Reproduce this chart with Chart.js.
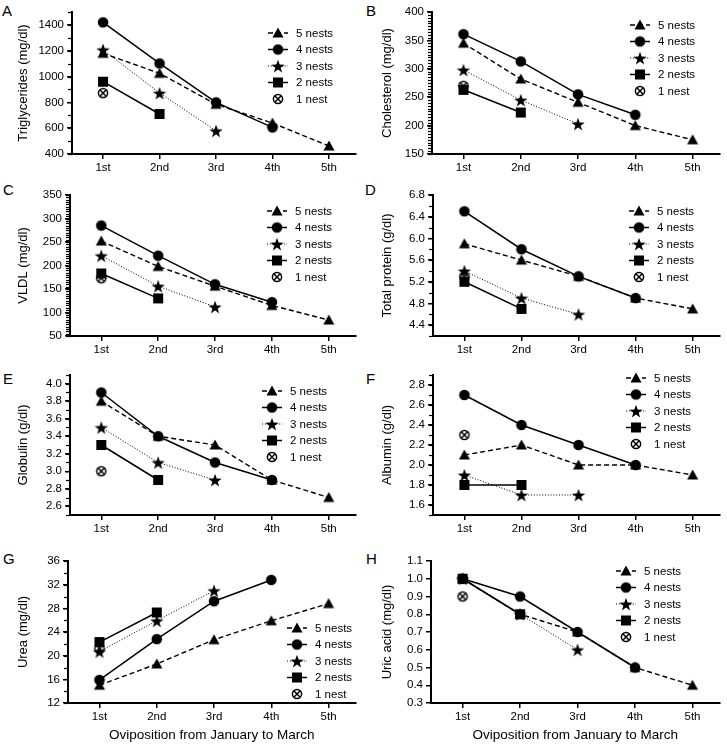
<!DOCTYPE html>
<html>
<head>
<meta charset="utf-8">
<script src="https://cdn.jsdelivr.net/npm/chart.js@4/dist/chart.umd.min.js"></script>
<style>
	html, body { margin: 0; padding: 0; background: #fff; }
	body { position: relative; width: 727px; height: 746px; overflow: hidden; font-family: "Liberation Sans", Arial, sans-serif; }
	canvas { position: absolute; }
	.letter { position: absolute; font-size: 15px; line-height: 15px; color: #000; }
</style>
</head>
<body>
<script>

/*
 * Data.
 * Each panel: one array per series, in legend order (5 nests .. 1 nest).
 */
const categories = [ "1st", "2nd", "3rd", "4th", "5th" ];
const series = [ "5 nests", "4 nests", "3 nests", "2 nests", "1 nest" ];

const triglycerides = [ [ 1180, 1025, 785, 640, 462 ], [ 1420, 1102, 800, 606 ], [ 1208, 872, 580 ], [ 960, 710 ], [ 872 ] ];
const cholesterol = [ [ 345, 282, 241, 200, 175 ], [ 361, 313, 255, 219 ], [ 298, 245, 203 ], [ 263, 223 ], [ 270 ] ];
const vldl = [ [ 252, 198, 156, 115, 84 ], [ 285, 221, 160, 122 ], [ 221, 156, 112 ], [ 183, 130 ], [ 173 ] ];
const totalProtein = [ [ 5.9, 5.6, 5.3, 4.9, 4.7 ], [ 6.5, 5.8, 5.3, 4.9 ], [ 5.4, 4.9, 4.6 ], [ 5.2, 4.7 ], [ 5.3 ] ];
const globulin = [ [ 3.8, 3.4, 3.3, 2.9, 2.7 ], [ 3.9, 3.4, 3.1, 2.9 ], [ 3.5, 3.1, 2.9 ], [ 3.3, 2.9 ], [ 3.0 ] ];
const albumin = [ [ 2.1, 2.2, 2.0, 2.0, 1.9 ], [ 2.7, 2.4, 2.2, 2.0 ], [ 1.9, 1.7, 1.7 ], [ 1.8, 1.8 ], [ 2.3 ] ];
const urea = [ [ 15.0, 18.6, 22.7, 25.9, 28.8 ], [ 15.9, 22.8, 29.2, 32.8 ], [ 20.7, 25.9, 31.0 ], [ 22.3, 27.3 ], [ 21.2 ] ];
const uricAcid = [ [ 1.0, 0.8, 0.7, 0.5, 0.4 ], [ 1.0, 0.9, 0.7, 0.5 ], [ 1.0, 0.8, 0.6 ], [ 1.0, 0.8 ], [ 0.9 ] ];

// Y tick labels per panel.
const triglyceridesTicks = [ 400, 600, 800, 1000, 1200, 1400 ];
const cholesterolTicks = [ 150, 200, 250, 300, 350, 400 ];
const vldlTicks = [ 50, 100, 150, 200, 250, 300, 350 ];
const totalProteinTicks = [ 4.4, 4.8, 5.2, 5.6, 6.0, 6.4, 6.8 ];
const globulinTicks = [ 2.6, 2.8, 3.0, 3.2, 3.4, 3.6, 3.8, 4.0 ];
const albuminTicks = [ 1.6, 1.8, 2.0, 2.2, 2.4, 2.6, 2.8 ];
const ureaTicks = [ 12, 16, 20, 24, 28, 32, 36 ];
const uricAcidTicks = [ 0.3, 0.4, 0.5, 0.6, 0.7, 0.8, 0.9, 1.0, 1.1 ];

const FONT = "'Liberation Sans', Arial, sans-serif";

/*
 * Panel layout (page pixels) and axis settings.
 */
const rows = [
	{ top: 12, bottom: 154, xh: 25 },
	{ top: 195, bottom: 336, xh: 25 },
	{ top: 375, bottom: 515, xh: 25 },
	{ top: 561, bottom: 703, xh: 42 }
];

const panels = [
	{ letter: "A", lx: 2, ly: 3, col: 0, row: 0, left: 72, title: "Triglycerides (mg/dl)", values: triglycerides, ticks: triglyceridesTicks, min: 400, max: 1500, minor: 100, dec: 0, legend: [ 196, 21 ] },
	{ letter: "B", lx: 366, ly: 3, col: 1, row: 0, left: 432, title: "Cholesterol (mg/dl)", values: cholesterol, ticks: cholesterolTicks, min: 150, max: 400, minor: 5, dec: 0, legend: [ 198, 13 ] },
	{ letter: "C", lx: 3, ly: 182, col: 0, row: 1, left: 70, title: "VLDL (mg/dl)", values: vldl, ticks: vldlTicks, min: 50, max: 350, minor: 5, dec: 0, legend: [ 197, 16 ] },
	{ letter: "D", lx: 365, ly: 182, col: 1, row: 1, left: 433, title: "Total protein (g/dl)", values: totalProtein, ticks: totalProteinTicks, min: 4.2, max: 6.8, minor: 0.2, dec: 1, legend: [ 196, 16 ] },
	{ letter: "E", lx: 3, ly: 371, col: 0, row: 2, left: 70, title: "Globulin (g/dl)", values: globulin, ticks: globulinTicks, min: 2.5, max: 4.1, minor: 0.1, dec: 1, legend: [ 192, 16 ] },
	{ letter: "F", lx: 366, ly: 371, col: 1, row: 2, left: 433, title: "Albumin (g/dl)", values: albumin, ticks: albuminTicks, min: 1.5, max: 2.9, minor: 0.1, dec: 1, legend: [ 193, 3 ] },
	{ letter: "G", lx: 3, ly: 551, col: 0, row: 3, left: 68, title: "Urea (mg/dl)", values: urea, ticks: ureaTicks, min: 12, max: 36, minor: 2, dec: 0, legend: [ 219, 67 ] },
	{ letter: "H", lx: 366, ly: 551, col: 1, row: 3, left: 431, title: "Uric acid (mg/dl)", values: uricAcid, ticks: uricAcidTicks, min: 0.3, max: 1.1, minor: 0, dec: 1, legend: [ 185, 10 ] }
];

/*
 * Marker images (Prism-like symbols).
 */
function marker( kind )
{
	const c = document.createElement( "canvas" );
	c.width = c.height = 16;
	const g = c.getContext( "2d" );
	g.fillStyle = g.strokeStyle = "#000";
	g.translate( 8, 8 );
	g.beginPath();
	if( kind === "triangle" )
	{
		g.moveTo( 0, -5.5 ); g.lineTo( 5.5, 4.5 ); g.lineTo( -5.5, 4.5 ); g.closePath(); g.fill();
	}
	else if( kind === "circle" )
	{
		g.arc( 0, 0, 5.3, 0, Math.PI * 2 ); g.fill();
	}
	else if( kind === "star" )
	{
		for( let i = 0; i < 10; i++ )
		{
			const r = i % 2 ? 2.8 : 7;
			const a = -Math.PI / 2 + i * Math.PI / 5;
			g.lineTo( r * Math.cos( a ), r * Math.sin( a ) + 0.8 );
		}
		g.closePath(); g.fill();
	}
	else if( kind === "rect" )
	{
		g.fillRect( -5, -5, 10, 10 );
	}
	else {
		g.lineWidth = 1.5;
		g.arc( 0, 0, 4.6, 0, Math.PI * 2 ); g.stroke();
		g.beginPath();
		g.moveTo( -3.2, -3.2 ); g.lineTo( 3.2, 3.2 );
		g.moveTo( 3.2, -3.2 ); g.lineTo( -3.2, 3.2 );
		g.stroke();
	}
	return( c );
}

const styles = [
	{ point: marker( "triangle" ), dash: [ 5, 3 ], width: 1.4 },
	{ point: marker( "circle" ), dash: [], width: 1.5 },
	{ point: marker( "star" ), dash: [ 1, 1.8 ], width: 1 },
	{ point: marker( "rect" ), dash: [], width: 1.5 },
	{ point: marker( "crossed" ), dash: [], width: 1.5 }
];

/*
 * Minor ticks on the y axis.
 */
const minorTicks = {
	id: "minorTicks",
	afterDraw: function( chart, args, opts )
	{
		if( !opts.step ) return;
		const s = chart.scales.y;
		const ctx = chart.ctx;
		const n = Math.round( ( s.max - s.min ) / opts.step );
		ctx.save();
		ctx.strokeStyle = "#000";
		ctx.lineWidth = 1.2;
		for( let i = 0; i <= n; i++ )
		{
			const y = Math.round( s.getPixelForValue( s.min + i * opts.step ) ) + 0.5;
			ctx.beginPath();
			ctx.moveTo( s.right - 4, y );
			ctx.lineTo( s.right, y );
			ctx.stroke();
		}
		ctx.restore();
	}
};

/*
 * Legend: line sample with the marker on it, then the label.
 */
const nestLegend = {
	id: "nestLegend",
	afterDatasetsDraw: function( chart, args, opts )
	{
		const ctx = chart.ctx;
		const x0 = chart.chartArea.left + opts.x;
		const y0 = chart.chartArea.top + opts.y;
		chart.data.datasets.forEach( ( ds, i ) =>
		{
			const y = y0 + i * 16.5;
			ctx.save();
			if( ds.data.length > 1 )
			{
				ctx.strokeStyle = "#000";
				ctx.lineWidth = ds.borderWidth;
				ctx.setLineDash( ds.borderDash );
				ctx.beginPath();
				ctx.moveTo( x0, y );
				ctx.lineTo( x0 + 20, y );
				ctx.stroke();
			}
			ctx.drawImage( ds.pointStyle, x0 + 10 - 8, y - 8 );
			ctx.fillStyle = "#000";
			ctx.font = "11.5px " + FONT;
			ctx.textBaseline = "middle";
			ctx.fillText( ds.label, x0 + 28, y + 0.5 );
			ctx.restore();
		});
	}
};

/*
 * Build one panel.
 */
panels.forEach( p =>
{
	const row = rows[p.row];
	const x0 = p.col ? 364 : 0;
	const right = p.col ? 726 : 363;
	const top = row.top - 12;
	const height = row.bottom + row.xh - top;

	const letter = document.createElement( "div" );
	letter.className = "letter";
	letter.style.left = p.lx + "px";
	letter.style.top = p.ly + "px";
	letter.textContent = p.letter;
	document.body.appendChild( letter );

	const canvas = document.createElement( "canvas" );
	canvas.style.left = x0 + "px";
	canvas.style.top = top + "px";
	canvas.style.width = "363px";
	canvas.style.height = height + "px";
	canvas.width = 363;
	canvas.height = height;
	document.body.appendChild( canvas );

	const datasets = p.values.map( ( vals, i ) => ({
		label: series[i],
		data: vals.map( ( v, j ) => ({ x: j + 1, y: v }) ),
		borderColor: "#000",
		backgroundColor: "#000",
		borderWidth: styles[i].width,
		borderDash: styles[i].dash,
		pointStyle: styles[i].point,
		pointRadius: 6,
		tension: 0
	}));

	const gridOpts = { drawOnChartArea: false, drawTicks: true, tickLength: 5, color: "#000", lineWidth: 1.5 };

	new Chart( canvas, {
		type: "line",
		data: { datasets: datasets },
		plugins: [ minorTicks, nestLegend ],
		options: {
			responsive: false,
			animation: false,
			devicePixelRatio: 1,
			layout: { padding: { top: 12, left: 0, bottom: 0, right: x0 + 363 - right } },
			plugins: {
				legend: { display: false },
				tooltip: { enabled: false },
				minorTicks: { step: p.minor },
				nestLegend: { x: p.legend[0], y: p.legend[1] }
			},
			scales: {
				x: {
					type: "linear",
					min: 0.45,
					max: 5.47,
					afterBuildTicks: s => { s.ticks = categories.map( ( c, i ) => ({ value: i + 1 }) ); },
					afterFit: s => { s.height = row.xh; },
					grid: gridOpts,
					border: { display: true, color: "#000", width: 2 },
					ticks: {
						callback: v => categories[v - 1],
						color: "#000",
						font: { family: FONT, size: 11.5 },
						padding: 2,
						maxRotation: 0,
						autoSkip: false
					},
					title: {
						display: p.row === 3,
						text: "Oviposition from January to March",
						color: "#000",
						font: { family: FONT, size: 13.5 },
						padding: { top: 0, bottom: 2 }
					}
				},
				y: {
					min: p.min,
					max: p.max,
					afterBuildTicks: s => { s.ticks = p.ticks.map( v => ({ value: v }) ); },
					afterFit: s => { s.width = p.left - x0; },
					grid: gridOpts,
					border: { display: true, color: "#000", width: 2 },
					ticks: {
						callback: v => Number( v ).toFixed( p.dec ),
						color: "#000",
						font: { family: FONT, size: 11.5 },
						padding: 3
					},
					title: {
						display: true,
						text: p.title,
						color: "#000",
						font: { family: FONT, size: 13 },
						padding: { top: 16, bottom: 0 }
					}
				}
			}
		}
	});
});

</script>
</body>
</html>
